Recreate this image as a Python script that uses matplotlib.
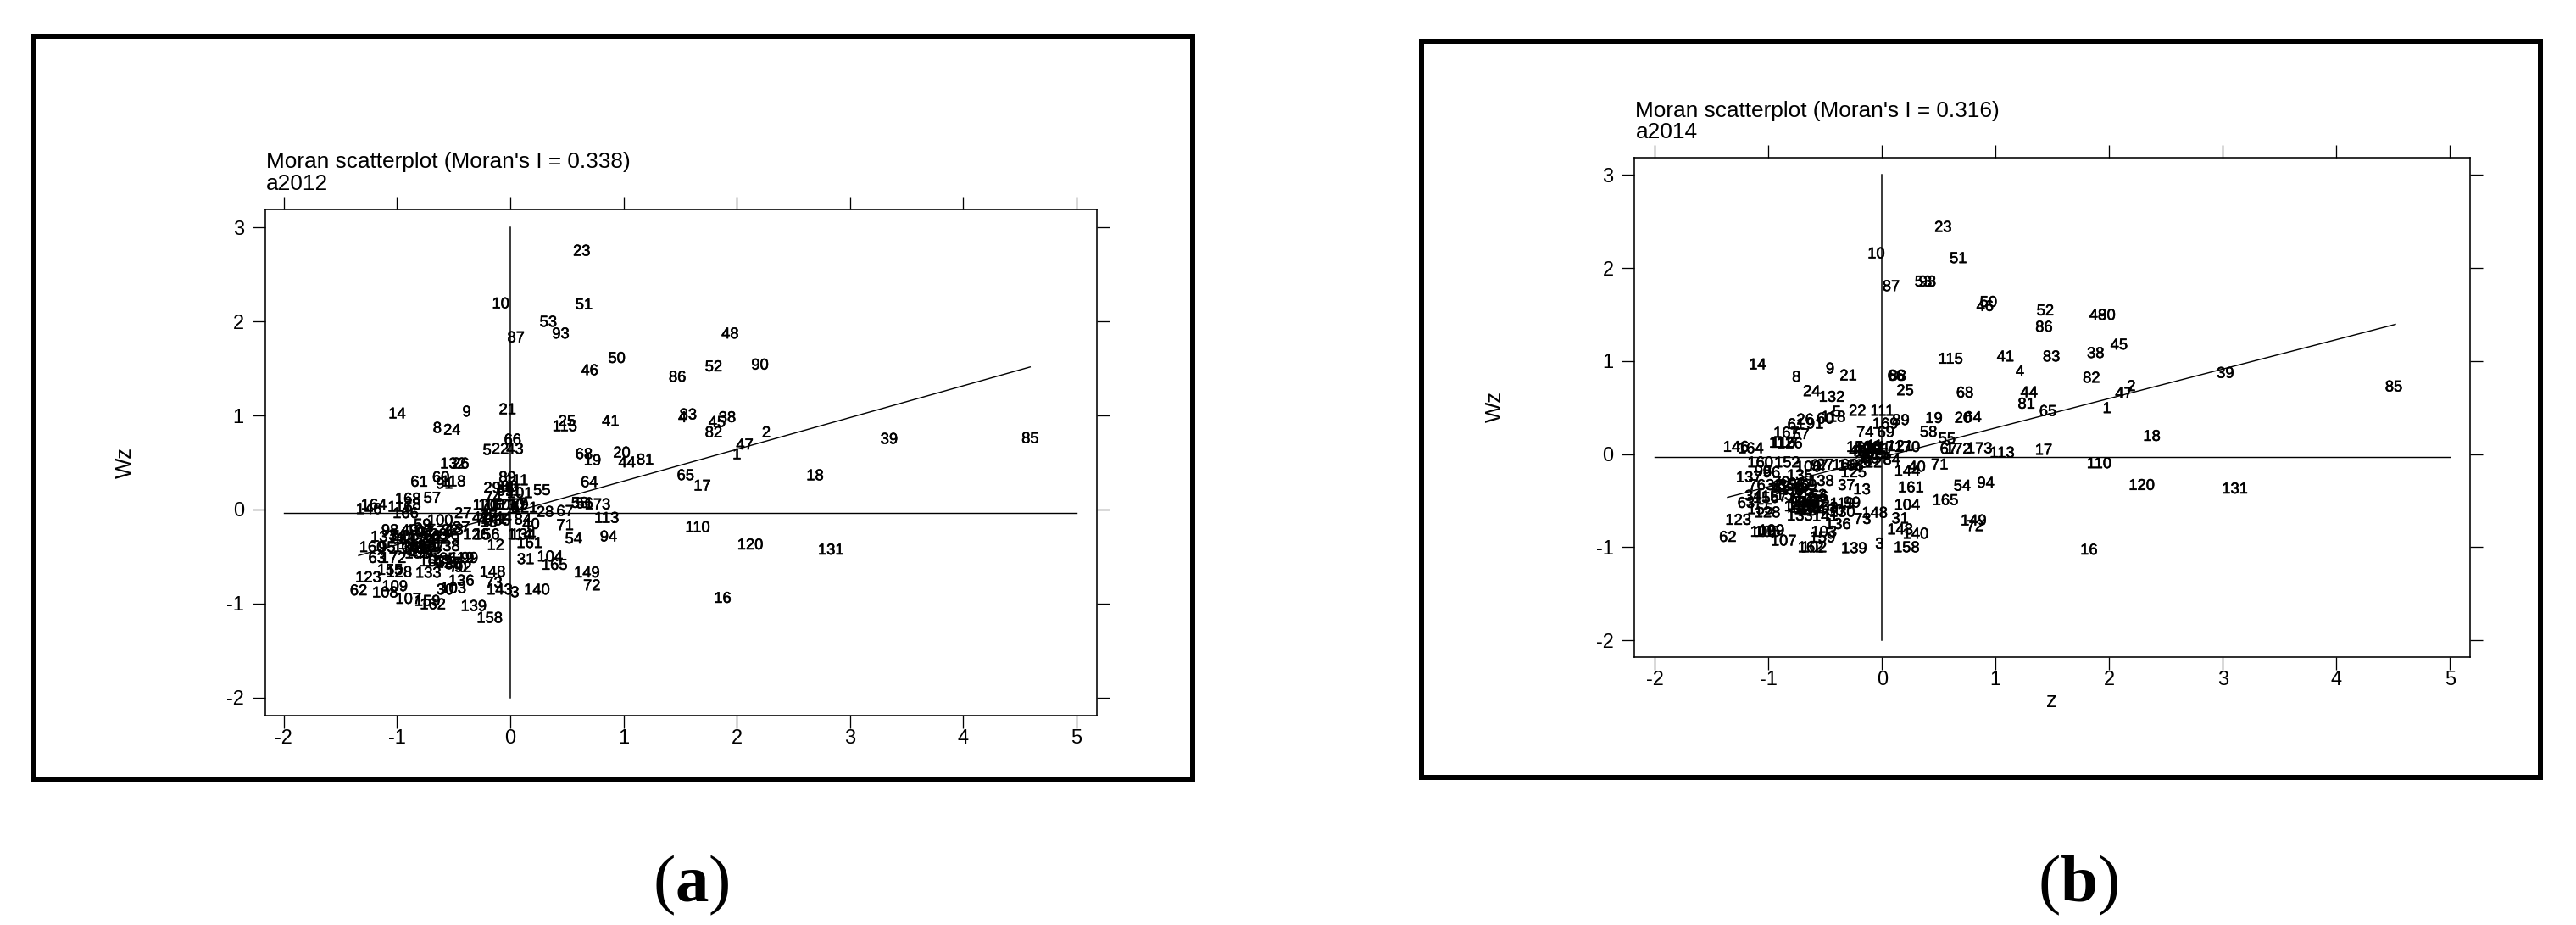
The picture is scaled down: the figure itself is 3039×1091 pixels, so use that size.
import matplotlib
matplotlib.use("Agg")
import matplotlib.pyplot as plt
import matplotlib.patheffects as pe
from matplotlib.patches import Rectangle

W, H = 3039, 1091

# ---------- panel (a) a2012 ----------
labels_a = [23,10,51,53,93,87,48,50,46,52,90,86,
            14,9,21,83,4,38,45,25,115,41,8,24,
            82,2,47,1,66,5,22,43,68,19,20,44,
            81,132,26,65,17,18,64,39,85,110,120,131,
            16,61,60,91,118,29,89,111,88,74,69,101,
            55,168,57,164,146,116,78,166,27,84,40,28,
            67,58,56,173,113,71,54,94,134,161,12,31,
            104,165,149,72,148,73,143,3,140,139,158,62,
            123,109,108,107,159,162,103,30,136,133,155,128,
            63,172,160,95,137,98,34,49,59,100,138,99,
            119,170,106,150,171,130,79,121,42,75,77,141,
            144,35,15,7,6,80,11,126,156,114,37,13,
            32,76,33,96,97,102,105,112,117,122,124,129,
            135,142,145,147,151,152,153,154,157,163,167,125,
            127,36,70,92]
z_a = [0.63,-0.085,0.65,0.335,0.445,0.05,1.94,0.94,0.70,1.795,2.205,1.475,
       -1.0,-0.385,-0.025,1.57,1.52,1.915,1.825,0.50,0.48,0.885,-0.645,-0.515,
       1.795,2.26,2.07,2.0,0.02,-0.205,-0.09,0.04,0.65,0.725,0.984,1.03,
       1.19,-0.506,-0.44,1.547,1.695,2.69,0.697,3.345,4.59,1.654,2.118,2.83,
       1.874,-0.805,-0.613,-0.582,-0.504,-0.16,-0.026,0.054,-0.046,-0.152,-0.046,0.083,
       0.278,-0.905,-0.69,-1.206,-1.25,-0.975,-0.865,-0.925,-0.418,0.11,0.183,0.307,
       0.484,0.613,0.655,0.77,0.85,0.484,0.559,0.868,0.112,0.169,-0.13,0.135,
       0.35,0.39,0.676,0.72,-0.158,-0.146,-0.095,0.04,0.235,-0.324,-0.183,-1.34,
       -1.255,-1.02,-1.106,-0.9,-0.733,-0.685,-0.504,-0.576,-0.433,-0.725,-1.063,-0.983,
       -1.178,-1.034,-1.22,-1.09,-1.12,-1.063,-1.0,-0.89,-0.776,-0.62,-0.56,-0.36,
       -0.43,-0.218,-0.169,-0.117,-0.06,0.011,0.083,0.126,-0.261,-0.232,-0.189,-0.146,
       -0.103,-0.074,-0.189,0.112,0.04,-0.009,0.026,-0.304,-0.209,0.083,-0.433,-0.49,
       -0.533,-0.576,-0.633,-0.691,-0.748,-0.805,-0.92,-0.963,-0.862,-0.662,-0.777,-0.562,
       -0.92,-0.848,-0.805,-0.777,-0.748,-0.719,-0.819,-0.877,-0.691,-0.691,-0.633,-0.59,
       -0.547,-0.504,-0.461,-0.418]
wz_a = [2.74,2.18,2.17,1.985,1.86,1.82,1.86,1.60,1.47,1.51,1.53,1.40,
        1.01,1.03,1.055,1.00,0.97,0.97,0.92,0.93,0.875,0.93,0.857,0.836,
        0.81,0.81,0.68,0.577,0.733,0.622,0.633,0.633,0.58,0.513,0.595,0.49,
        0.52,0.478,0.478,0.354,0.243,0.353,0.28,0.74,0.748,-0.198,-0.383,-0.437,
        -0.95,0.285,0.333,0.264,0.288,0.22,0.333,0.30,0.225,0.123,0.19,0.165,
        0.195,0.105,0.114,0.04,-0.006,0.018,0.04,-0.05,-0.05,-0.117,-0.165,-0.036,
        -0.027,0.06,0.055,0.045,-0.1,-0.177,-0.32,-0.297,-0.276,-0.366,-0.387,-0.538,
        -0.51,-0.598,-0.68,-0.817,-0.673,-0.787,-0.862,-0.89,-0.862,-1.036,-1.162,-0.87,
        -0.73,-0.826,-0.892,-0.96,-0.982,-1.018,-0.847,-0.862,-0.766,-0.682,-0.652,-0.676,
        -0.526,-0.526,-0.411,-0.411,-0.30,-0.23,-0.285,-0.23,-0.171,-0.126,-0.40,-0.526,
        -0.526,0.039,0.039,0.039,0.039,0.039,0.045,0.009,-0.096,-0.126,-0.081,-0.111,
        -0.096,-0.126,-0.141,0.054,0.009,0.234,0.189,-0.276,-0.276,-0.276,-0.201,-0.225,
        -0.231,-0.246,-0.276,-0.291,-0.246,-0.231,-0.291,-0.321,-0.321,-0.321,-0.336,-0.321,
        -0.411,-0.426,-0.441,-0.456,-0.411,-0.471,-0.477,-0.381,-0.396,-0.562,-0.562,-0.532,
        -0.577,-0.592,-0.622,-0.622]
moran_a = 0.338
intercept_a = -0.036
fit_range_a = [-1.34, 4.59]

# ---------- panel (b) a2014 ----------
labels_b = [23,10,51,53,93,87,50,46,52,48,90,86,
            45,38,115,41,83,14,9,4,21,8,66,88,
            82,25,68,44,2,47,24,132,81,1,5,22,
            111,65,55,60,118,26,91,61,169,89,19,20,
            64,74,69,58,57,167,146,164,112,126,116,67,
            172,173,113,17,39,85,18,110,120,131,16,160,
            152,109,96,98,137,76,34,63,123,62,128,155,
            108,105,107,133,143,103,159,162,102,139,3,158,
            140,31,104,161,148,73,136,99,119,130,141,37,
            13,125,138,100,97,27,135,168,166,84,144,40,
            71,54,94,165,149,72,170,121,171,43,42,29,
            75,77,80,79,101,11,7,6,15,150,106,12,
            28,32,33,35,36,49,59,70,78,92,95,114,
            117,122,124,127,129,134,142,145,147,151,153,154,
            156,157,163,30,56]
z_b = [0.537,-0.051,0.671,0.363,0.40,0.08,0.937,0.906,1.437,1.9,1.98,1.426,
       2.086,1.88,0.603,1.086,1.491,-1.097,-0.457,1.214,-0.297,-0.754,0.123,0.137,
       1.843,0.203,0.729,1.294,2.194,2.129,-0.62,-0.443,1.271,1.98,-0.4,-0.217,
       0.0,1.46,0.571,-0.5,-0.43,-0.677,-0.591,-0.757,0.029,0.166,0.457,0.714,
       0.8,-0.149,0.034,0.409,-0.714,-0.843,-1.286,-1.157,-0.886,-0.814,-0.871,0.586,
       0.671,0.857,1.057,1.423,3.023,4.505,2.375,1.911,2.286,3.106,1.821,-1.072,
       -0.836,-0.973,-0.973,-1.047,-1.172,-1.102,-1.134,-1.197,-1.266,-1.358,-1.01,-1.072,
       -1.047,-1.01,-0.866,-0.724,0.159,-0.512,-0.525,-0.629,-0.6,-0.246,-0.022,0.216,
       0.296,0.159,0.221,0.254,-0.065,-0.172,-0.388,-0.264,-0.351,-0.351,-0.5,-0.313,
       -0.177,-0.251,-0.537,-0.649,-0.55,-0.5,-0.724,-0.276,-0.326,0.085,0.221,0.308,
       0.507,0.706,0.913,0.557,0.806,0.818,0.221,0.159,0.072,-0.177,-0.214,-0.139,
       -0.077,-0.127,-0.102,-0.052,-0.04,-0.065,-0.152,-0.102,-0.015,-0.201,-0.127,-0.077,
       -0.164,-0.948,-0.886,-0.836,-0.774,-0.711,-0.649,-0.886,-0.923,-0.749,-0.687,-0.724,
       -0.687,-0.624,-0.662,-0.6,-0.699,-0.612,-0.575,-0.749,-0.649,-0.711,-0.6,-0.823,
       -1.022,-0.948,-0.5,-0.413,-0.55]
wz_b = [2.43,2.146,2.095,1.843,1.843,1.794,1.624,1.579,1.533,1.484,1.484,1.357,
        1.166,1.075,1.014,1.038,1.038,0.953,0.908,0.88,0.835,0.82,0.832,0.832,
        0.81,0.674,0.65,0.653,0.72,0.644,0.665,0.604,0.531,0.483,0.446,0.455,
        0.455,0.452,0.158,0.37,0.39,0.361,0.316,0.31,0.316,0.355,0.376,0.379,
        0.386,0.225,0.225,0.228,0.203,0.219,0.067,0.052,0.112,0.106,0.112,0.046,
        0.046,0.052,0.006,0.036,0.861,0.716,0.184,-0.109,-0.343,-0.381,-1.037,-0.10,
        -0.10,-0.829,-0.207,-0.192,-0.259,-0.344,-0.459,-0.535,-0.717,-0.9,-0.638,-0.602,
        -0.845,-0.845,-0.941,-0.672,-0.82,-0.845,-0.905,-1.012,-1.012,-1.021,-0.972,-1.012,
        -0.866,-0.702,-0.556,-0.368,-0.641,-0.708,-0.763,-0.532,-0.541,-0.632,-0.678,-0.344,
        -0.39,-0.207,-0.298,-0.147,-0.131,-0.125,-0.238,-0.131,-0.125,-0.07,-0.192,-0.146,
        -0.122,-0.35,-0.319,-0.505,-0.723,-0.784,0.066,0.075,0.066,0.036,0.021,0.051,
        0.036,-0.01,-0.056,-0.01,0.051,0.081,-0.04,0.004,-0.01,0.066,0.066,-0.101,
        -0.086,-0.344,-0.359,-0.344,-0.389,-0.359,-0.344,-0.314,-0.389,-0.329,-0.404,-0.556,
        -0.526,-0.571,-0.602,-0.526,-0.587,-0.617,-0.556,-0.572,-0.511,-0.481,-0.45,-0.45,
        -0.481,-0.465,-0.587,-0.617,-0.465]
moran_b = 0.316
intercept_b = -0.034
fit_range_b = [-1.36, 4.52]

x_ticks = [-2, -1, 0, 1, 2, 3, 4, 5]
y_ticks = [-2, -1, 0, 1, 2, 3]
x_tick_labels = ["-2", "-1", "0", "1", "2", "3", "4", "5"]
y_tick_labels = ["-2", "-1", "0", "1", "2", "3"]

FONT = "Liberation Sans"
PX = 0.72  # points per pixel at dpi 100
plt.rcParams["font.family"] = FONT
plt.rcParams["mathtext.fontset"] = "custom"
plt.rcParams["mathtext.rm"] = "Liberation Serif"
plt.rcParams["mathtext.bf"] = "Liberation Serif:bold"

fig = plt.figure(figsize=(W / 100, H / 100), dpi=100, facecolor="white")


def rect(l, t, r, b):
    return [l / W, 1 - b / H, (r - l) / W, (b - t) / H]


def panel(box, frame, xlim, ylim, labels, z, wz, slope, icpt, fit, name, title_px, ylab_px):
    fig.add_artist(Rectangle((frame[0] / W, 1 - frame[3] / H),
                             (frame[2] - frame[0]) / W, (frame[3] - frame[1]) / H,
                             transform=fig.transFigure, fill=False, ec="black", lw=6 * PX))
    ax = fig.add_axes(rect(*box))
    ax.set_xlim(*xlim)
    ax.set_ylim(*ylim)
    for s in ax.spines.values():
        s.set_linewidth(1.6 * PX)
    ax.set_xticks(x_ticks, x_tick_labels)
    ax.set_yticks(y_ticks, y_tick_labels)
    ax.tick_params(axis="both", which="major", direction="out", length=15 * PX, width=1.3 * PX,
                   top=True, right=True, labelsize=17)
    ax.tick_params(axis="x", pad=1)
    ax.tick_params(axis="y", pad=7)
    ax.axhline(icpt, xmin=(-2 - xlim[0]) / (xlim[1] - xlim[0]),
               xmax=(5 - xlim[0]) / (xlim[1] - xlim[0]), color="black", lw=1.4 * PX)
    ax.plot([0, 0], [-2, 3], color="black", lw=1.5 * PX)
    ax.plot(fit, [icpt + slope * fit[0], icpt + slope * fit[1]], color="black", lw=1.4 * PX)
    for lab, x, y in zip(labels, z, wz):
        ax.text(x, y, str(lab), ha="center", va="center", fontsize=13.2, color="black",
                path_effects=[pe.withStroke(linewidth=0.4, foreground="black")])
    fig.text((box[0] + 1) / W, 1 - title_px[0] / H, f"Moran scatterplot (Moran's I = {slope:.3f})",
             ha="left", va="center", fontsize=18.9)
    fig.text((box[0] + 1) / W, 1 - title_px[1] / H, name, ha="left", va="center", fontsize=18.9)
    fig.text(ylab_px[0] / W, 1 - ylab_px[1] / H, "Wz", rotation=90, ha="center", va="center", fontsize=18.5)
    return ax


panel((312.5, 247, 1293.7, 844), (40, 43, 1407, 919), (-2.167, 5.177), (-2.19, 3.19),
      labels_a, z_a, wz_a, moran_a, intercept_a, fit_range_a, "a2012", (191, 217), (148, 546))
panel((1928.4, 185.7, 2913.6, 775), (1677, 49, 2997, 917), (-2.178, 5.174), (-2.18, 3.187),
      labels_b, z_b, wz_b, moran_b, intercept_b, fit_range_b, "a2014", (131, 156), (1764, 480))
fig.text(2420 / W, 1 - 827 / H, "z", ha="center", va="center", fontsize=18.5)

for txt, xp in [(r"($\mathbf{a}$)", 815), (r"($\mathbf{b}$)", 2452)]:
    fig.text(xp / W, 1 - 1044 / H, txt, ha="center", va="center", fontsize=57,
             family="Liberation Serif")

fig.savefig("out.png", dpi=100, facecolor="white")
